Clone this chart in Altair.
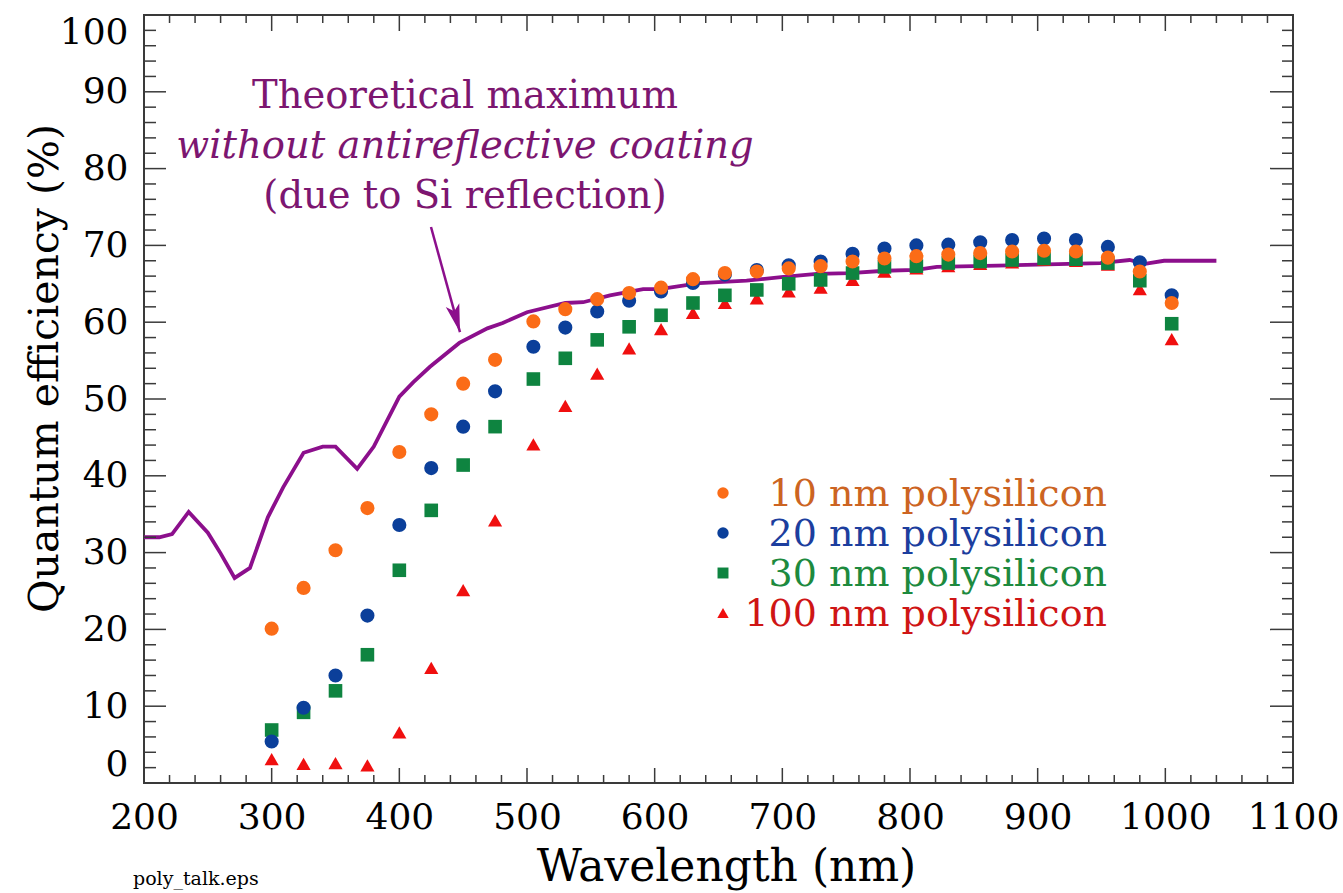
import altair as alt
import pandas as pd

# ---------------- data ----------------
wavelength = [300, 325, 350, 375, 400, 425, 450, 475, 505, 530, 555, 580, 605, 630,
              655, 680, 705, 730, 755, 780, 805, 830, 855, 880, 905, 930, 955, 980, 1005]
qe_10nm = [20.1, 25.4, 30.3, 35.8, 43.1, 48.0, 52.0, 55.1, 60.1, 61.7, 63.0, 63.8, 64.5, 65.6,
           66.4, 66.6, 67.0, 67.3, 67.9, 68.3, 68.6, 68.8, 69.0, 69.2, 69.3, 69.2, 68.4, 66.6, 62.5]
qe_20nm = [5.4, 9.8, 14.0, 21.8, 33.6, 41.0, 46.4, 51.0, 56.8, 59.3, 61.4, 62.8, 64.0, 65.1,
           66.2, 66.8, 67.4, 67.9, 68.9, 69.6, 70.0, 70.1, 70.4, 70.7, 70.9, 70.7, 69.8, 67.8, 63.5]
qe_30nm = [6.9, 9.2, 12.0, 16.7, 27.7, 35.5, 41.4, 46.4, 52.6, 55.3, 57.7, 59.4, 60.9, 62.5,
           63.5, 64.2, 65.0, 65.5, 66.4, 67.2, 67.3, 67.7, 67.9, 68.1, 68.3, 68.2, 67.7, 65.4, 59.8]
qe_100nm = [3.1, 2.5, 2.6, 2.3, 6.6, 15.0, 25.1, 34.2, 44.1, 49.1, 53.3, 56.6, 59.1, 61.2,
            62.5, 63.1, 64.0, 64.5, 65.5, 66.6, 67.0, 67.3, 67.6, 67.8, 68.1, 68.0, 67.5, 64.3, 57.8]

theory_wl = [200, 212, 222, 235, 250, 260, 271, 283, 297, 309, 325, 340, 350, 367, 380, 400,
             411, 424, 447, 469, 481, 500, 530, 544, 565, 591, 604, 635, 672, 701, 727, 753,
             780, 805, 821, 878, 949, 972, 984, 999, 1040]
theory_qe = [32.0, 32.0, 32.4, 35.3, 32.6, 29.9, 26.7, 28.0, 34.6, 38.5, 43.0, 43.8, 43.8, 40.9,
             43.8, 50.3, 52.2, 54.2, 57.3, 59.2, 59.9, 61.3, 62.5, 62.6, 63.5, 64.3, 64.3, 65.1,
             65.4, 65.9, 66.3, 66.4, 66.7, 66.8, 67.2, 67.4, 67.7, 68.1, 67.6, 68.0, 68.0]

series_names = ["10 nm polysilicon", "20 nm polysilicon", "30 nm polysilicon", "100 nm polysilicon"]

x_major = [200, 300, 400, 500, 600, 700, 800, 900, 1000, 1100]
x_minor = [v for v in range(220, 1100, 20) if v % 100]
y_major = [0, 10, 20, 30, 40, 50, 60, 70, 80, 90, 100]
y_minor = [v for v in range(2, 100, 2) if v % 10]

annotation_lines = ["Theoretical maximum", "without antireflective coating", "(due to Si reflection)"]
arrow_wl = [424.8, 447.5]
arrow_qe = [72.4, 58.7]

# ---------------- styling ----------------
W, H = 1149, 768
FONT = "DejaVu Serif"
TICK = "#3a3a3a"
ORANGE, BLUE, GREEN, RED = "#FB6C17", "#0B3F9A", "#0E8440", "#F00F0F"
LEG_TXT = ["#CC6422", "#1C3E9E", "#1D8A3E", "#CF1515"]
PURPLE_LINE = "#8C0F8C"
PURPLE_TEXT = "#7C1670"

xs = alt.Scale(domain=[200, 1100], nice=False, zero=False)
ys = alt.Scale(domain=[0, 100], nice=False, zero=False)

x_axis = alt.Axis(values=x_major, format="d", title="Wavelength (nm)", grid=False,
                  ticks=False, tickSize=0, domain=False, labelFlush=False, labelOverlap=False,
                  labelFont=FONT, labelFontSize=36, labelColor="black", labelPadding=17,
                  titleFont=FONT, titleFontSize=44, titleFontWeight="normal", titleColor="black",
                  titleBaseline="alphabetic", titleAlign="center", titleX=582, titleY=97)
y_axis = alt.Axis(values=y_major, format="d", title="Quantum efficiency (%)", grid=False,
                  ticks=False, tickSize=0, domain=False, labelFlush=True, labelOverlap=False,
                  labelFont=FONT, labelFontSize=36, labelColor="black", labelPadding=16,
                  titleFont=FONT, titleFontSize=41, titleFontWeight="normal", titleColor="black",
                  titleAngle=270, titleBaseline="alphabetic", titleAlign="center",
                  titleX=-87, titleY=353)


def X(field):
    return alt.X(field, scale=xs, axis=x_axis)


def Y(field):
    return alt.Y(field, scale=ys, axis=y_axis)


theory = pd.DataFrame({"wl": theory_wl, "qe": theory_qe})
line = alt.Chart(theory).mark_line(color=PURPLE_LINE, strokeWidth=3.8).encode(
    x=X("wl:Q"), y=Y("qe:Q"))


def points(vals, shape, color, size):
    df = pd.DataFrame({"wl": wavelength, "qe": vals})
    return alt.Chart(df).mark_point(shape=shape, filled=True, color=color, size=size, opacity=1).encode(
        x=X("wl:Q"), y=Y("qe:Q"))


def xticks(vals, y1, y2):
    df = pd.DataFrame({"wl": vals})
    return alt.Chart(df).mark_rule(color=TICK, strokeWidth=1.5).encode(
        x=X("wl:Q"), y=alt.value(y1), y2=alt.value(y2))


def yticks(vals, x1, x2):
    df = pd.DataFrame({"qe": vals})
    return alt.Chart(df).mark_rule(color=TICK, strokeWidth=1.5).encode(
        y=Y("qe:Q"), x=alt.value(x1), x2=alt.value(x2))


ticks = [
    xticks(x_major, H, H - 15), xticks(x_minor, H, H - 8),
    xticks(x_major, 0, 16), xticks(x_minor, 0, 8),
    yticks(y_major, 0, 22), yticks(y_minor, 0, 12),
    yticks(y_major, W, W - 23), yticks(y_minor, W, W - 11),
]

pts = [
    points(qe_100nm, "triangle-up", RED, 200),
    points(qe_30nm, "square", GREEN, 185),
    points(qe_20nm, "circle", BLUE, 200),
    points(qe_10nm, "circle", ORANGE, 200),
]

# legend (drawn by hand, as in the original)
legend = []
leg_shapes = ["circle", "circle", "square", "triangle-up"]
leg_colors = [ORANGE, BLUE, GREEN, RED]
leg_sizes = [130, 130, 120, 130]
for i, name in enumerate(series_names):
    d = pd.DataFrame({"label": [name]})
    legend.append(alt.Chart(d).mark_point(shape=leg_shapes[i], filled=True, color=leg_colors[i],
                                          size=leg_sizes[i], opacity=1).encode(
        x=alt.value(579), y=alt.value(478 + 40 * i)))
    legend.append(alt.Chart(d).mark_text(font=FONT, fontSize=38, color=LEG_TXT[i], align="right",
                                         baseline="alphabetic").encode(
        x=alt.value(963), y=alt.value(491 + 40 * i), text="label:N"))

# annotation
ann = []
for i, txt in enumerate(annotation_lines):
    d = pd.DataFrame({"t": [txt]})
    ann.append(alt.Chart(d).mark_text(font=FONT, fontSize=38.5, color=PURPLE_TEXT, align="center",
                                      baseline="alphabetic",
                                      fontStyle="italic" if i == 1 else "normal").encode(
        x=alt.value(321), y=alt.value(93 + 50 * i), text="t:N"))

arrow_df = pd.DataFrame({"wl": [arrow_wl[0]], "qe": [arrow_qe[0]], "wl2": [arrow_wl[1]], "qe2": [arrow_qe[1]]})
arrow_line = alt.Chart(arrow_df).mark_rule(color=PURPLE_LINE, strokeWidth=2.5).encode(
    x=X("wl:Q"), y=Y("qe:Q"), x2="wl2:Q", y2="qe2:Q")
arrow_head_df = pd.DataFrame({"wl": [arrow_wl[1]], "qe": [arrow_qe[1]]})
arrow_head = alt.Chart(arrow_head_df).mark_point(
    shape="M0,0 L-0.5,-2 L0,-1.55 L0.5,-2 Z", filled=True, color=PURPLE_LINE, size=784,
    angle=344.6, opacity=1).encode(x=X("wl:Q"), y=Y("qe:Q"))

footer = alt.Chart(pd.DataFrame({"t": ["poly_talk.eps"]})).mark_text(
    font=FONT, fontSize=19, color="black", align="left", baseline="alphabetic").encode(
    x=alt.value(-11), y=alt.value(870), text="t:N")

chart = alt.layer(
    line, *ticks, *pts, *legend, *ann, arrow_line, arrow_head, footer
).properties(
    width=W, height=H,
    autosize=alt.AutoSizeParams(type="none"),
    padding={"left": 144, "top": 15, "right": 50, "bottom": 110},
    background="white",
).configure_view(stroke="#3a3a3a", strokeWidth=2)

chart.save("out.html", embed_options={"renderer": "svg", "actions": False})
